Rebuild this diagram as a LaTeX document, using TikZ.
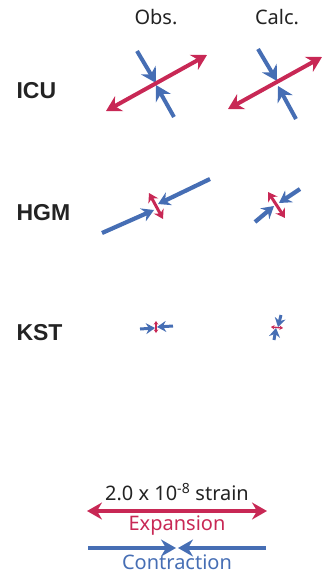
\documentclass[tikz,border=0pt]{standalone}
\usepackage{fontspec}
\setmainfont{Noto Sans}
\newfontfamily\boldlab{Liberation Sans}
\usetikzlibrary{arrows.meta}
\definecolor{expred}{RGB}{200,40,85}
\definecolor{conblue}{RGB}{70,110,180}
\definecolor{txtgray}{RGB}{35,35,35}
\begin{document}
\begin{tikzpicture}[x=1pt,y=-1pt,
  big/.tip={Stealth[length=15pt,width=17pt,inset=5pt]},
  mid/.tip={Stealth[length=12pt,width=14pt,inset=4pt]},
  sml/.tip={Stealth[length=9pt,width=11pt,inset=3pt]},
  tny/.tip={Stealth[length=3.5pt,width=4.5pt,inset=1pt]},
  expbig/.style={draw=expred,line width=4pt,{big}-{big}},
  expsm/.style={draw=expred,line width=3pt,{sml}-{sml}},
  exptn/.style={draw=expred,line width=1.4pt,{tny}-{tny}},
  conbig/.style={draw=conblue,line width=4pt,-{big}},
  conmid/.style={draw=conblue,line width=4.2pt,-{mid}},
  consm/.style={draw=conblue,line width=3pt,-{Stealth[length=9pt,width=11pt,inset=3pt]}},
  hdr/.style={text=txtgray,font=\fontsize{20}{24}\selectfont},
  rowlab/.style={anchor=west,text=txtgray,font=\boldlab\bfseries\fontsize{23}{26}\selectfont},
  leg/.style={font=\fontsize{20}{24}\selectfont}]
\useasboundingbox (0,0) rectangle (323,574);
% headers
\node[hdr] (obs) at (156,17) {Obs.};
\node[hdr] (calc) at (277,17) {Calc.};
\node[rowlab] (icu) at (13,91) {ICU};
\node[rowlab] (hgm) at (13,213) {HGM};
\node[rowlab] (kst) at (13,333) {KST};
% ICU obs
\coordinate (a1) at (106,111); \coordinate (a2) at (207,55);
\coordinate (a3) at (137,51); \coordinate (a4) at (156,83);
\coordinate (a5) at (174,117); \coordinate (a6) at (156,85);
\draw[conbig] (a3) -- (a4);
\draw[conbig] (a5) -- (a6);
\draw[expbig] (a1) -- (a2);
% ICU calc
\coordinate (b1) at (228,109); \coordinate (b2) at (322,57);
\coordinate (b3) at (258,49); \coordinate (b4) at (277,81);
\coordinate (b5) at (296,119); \coordinate (b6) at (278,86);
\draw[conbig] (b3) -- (b4);
\draw[conbig] (b5) -- (b6);
\draw[expbig] (b1) -- (b2);
% HGM obs
\coordinate (c1) at (149,193); \coordinate (c2) at (163,219);
\coordinate (c3) at (102,233); \coordinate (c4) at (154,210);
\coordinate (c5) at (210,179); \coordinate (c6) at (158,204);
\draw[expsm] (c1) -- (c2);
\draw[conmid] (c3) -- (c4);
\draw[conmid] (c5) -- (c6);
% HGM calc
\coordinate (d1) at (268,192); \coordinate (d2) at (285,218);
\coordinate (d3) at (255,222); \coordinate (d4) at (274,206);
\coordinate (d5) at (300,189); \coordinate (d6) at (279,203);
\draw[expsm] (d1) -- (d2);
\draw[conmid] (d3) -- (d4);
\draw[conmid] (d5) -- (d6);
% KST obs
\coordinate (e1) at (156,321); \coordinate (e2) at (156,333);
\coordinate (e3) at (140,329); \coordinate (e4) at (155,328);
\coordinate (e5) at (173,326); \coordinate (e6) at (157,327);
\draw[consm] (e3) -- (e4);
\draw[consm] (e5) -- (e6);
\draw[exptn] (e1) -- (e2);
% KST calc
\coordinate (f1) at (271,327); \coordinate (f2) at (283,328);
\coordinate (f3) at (281,315); \coordinate (f4) at (278,327);
\coordinate (f5) at (274,340); \coordinate (f6) at (276,328);
\draw[consm] (f3) -- (f4);
\draw[consm] (f5) -- (f6);
\draw[exptn] (f1) -- (f2);
% legend
\node[leg,text=txtgray] (scale) at (177,492) {2.0 x 10\textsuperscript{-8} strain};
\coordinate (g1) at (87,511); \coordinate (g2) at (267,511);
\draw[expbig] (g1) -- (g2);
\node[leg,text=expred] (expl) at (177,526) {Expansion};
\coordinate (h1) at (88,548); \coordinate (h2) at (176,548);
\coordinate (h3) at (266,548); \coordinate (h4) at (178,548);
\draw[conbig] (h1) -- (h2);
\draw[conbig] (h3) -- (h4);
\node[leg,text=conblue] (conl) at (177,562) {Contraction};
\end{tikzpicture}
\end{document}
